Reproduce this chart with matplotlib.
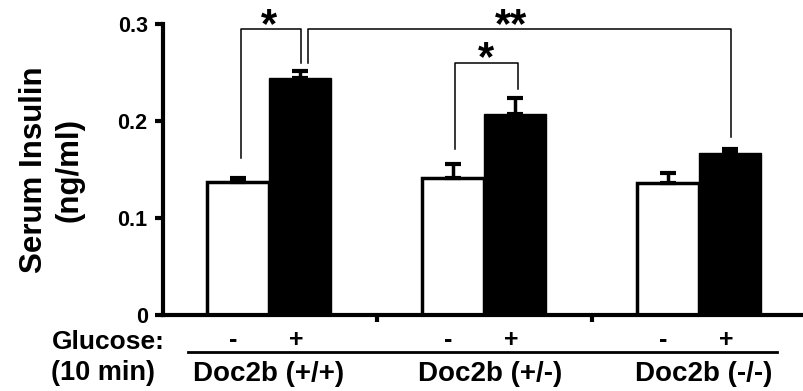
import matplotlib
matplotlib.use("Agg")
import matplotlib.pyplot as plt
from matplotlib.lines import Line2D
import numpy as np

plt.rcParams['font.family'] = ['Liberation Sans', 'DejaVu Sans']
plt.rcParams['font.weight'] = 'bold'

genotypes = ["Doc2b (+/+)", "Doc2b (+/-)", "Doc2b (-/-)"]
glucose_labels = ["-", "+"]
insulin_minus = [0.137, 0.141, 0.136]
insulin_plus = [0.244, 0.207, 0.167]
err_minus = [0.004, 0.015, 0.010]
err_plus = [0.008, 0.017, 0.004]
yticks = [0, 0.1, 0.2, 0.3]
ytick_labels = ["0", "0.1", "0.2", "0.3"]

fig = plt.figure(figsize=(8.04, 3.91), dpi=100)
W, H = 804, 391
ax = fig.add_axes([163 / W, (H - 315) / H, (804 - 163) / W, (315 - 24) / H])

centers = np.arange(len(genotypes))
bw = 0.29
off = 0.145
xm = centers - off
xp = centers + off

ax.bar(xm, insulin_minus, width=bw, color='white', edgecolor='black', linewidth=2.5, zorder=2)
ax.bar(xp, insulin_plus, width=bw, color='black', edgecolor='black', linewidth=1, zorder=2)
ax.errorbar(xm, insulin_minus, yerr=[np.zeros(3), err_minus], fmt='none', ecolor='black',
            elinewidth=2.5, capsize=6, capthick=3, zorder=3)
ax.errorbar(xp, insulin_plus, yerr=[np.zeros(3), err_plus], fmt='none', ecolor='black',
            elinewidth=2.5, capsize=6, capthick=3, zorder=3)

ax.set_xlim(-0.493, 2.488)
ax.set_ylim(0, 0.3)
ax.set_yticks(yticks)
ax.set_yticklabels(ytick_labels, fontsize=15.5, fontweight='bold')
ax.set_xticks([0.5, 1.5])
ax.set_xticklabels([])
ax.tick_params(axis='y', length=6, width=3, pad=5)
ax.tick_params(axis='x', length=5, width=3)
for s in ['top', 'right']:
    ax.spines[s].set_visible(False)
ax.spines['left'].set_linewidth(3)
ax.spines['bottom'].set_linewidth(3)
ax.spines['left'].set_bounds(0, 0.3)

ax.set_ylabel("Serum Insulin\n(ng/ml)", fontsize=22.5, fontweight='bold', labelpad=24,
              linespacing=1.25)

# significance brackets
def bracket(x1, y1, x2, y2, ytop):
    ax.add_line(Line2D([x1, x1, x2, x2], [y1, ytop, ytop, y2], color='black',
                       linewidth=1.1, clip_on=False, zorder=4))

bracket(xm[0] + 0.015, 0.162, xp[0] + 0.004, 0.260, 0.295)
bracket(xp[0] + 0.036, 0.260, xp[2] + 0.004, 0.1835, 0.295)
bracket(xm[1] + 0.01, 0.171, xp[1] + 0.013, 0.233, 0.260)

star_kw = dict(ha='center', va='center', fontsize=30, fontweight='bold', clip_on=False)
ax.text(0.0, 0.298, "*", **star_kw)
ax.text(1.126, 0.298, "**", **star_kw)
ax.text(1.009, 0.264, "*", **star_kw)

# labels below axis
xt = ax.get_xaxis_transform()
label_shift = [0.0, 0.03, 0.02]
for i in range(3):
    ax.text(xm[i] - 0.02, -0.085, glucose_labels[0], transform=xt, ha='center', va='center',
            fontsize=18, fontweight='bold')
    ax.text(xp[i] - 0.02, -0.085, glucose_labels[1], transform=xt, ha='center', va='center',
            fontsize=18, fontweight='bold')
    ax.text(centers[i] + label_shift[i], -0.203, genotypes[i], transform=xt, ha='center',
            va='center', fontsize=20, fontweight='bold')
ax.add_line(Line2D([(188 - 269) / 215, (777 - 269) / 215], [-0.127, -0.127], transform=xt,
                   color='black', linewidth=2, clip_on=False))
ax.text(0.002, -0.092, "Glucose:", transform=ax.transAxes, ha='right', va='center',
        fontsize=19, fontweight='bold')
ax.text(-0.012, -0.2, "(10 min)", transform=ax.transAxes, ha='right', va='center',
        fontsize=19.5, fontweight='bold')

fig.savefig("out.png", dpi=100)
